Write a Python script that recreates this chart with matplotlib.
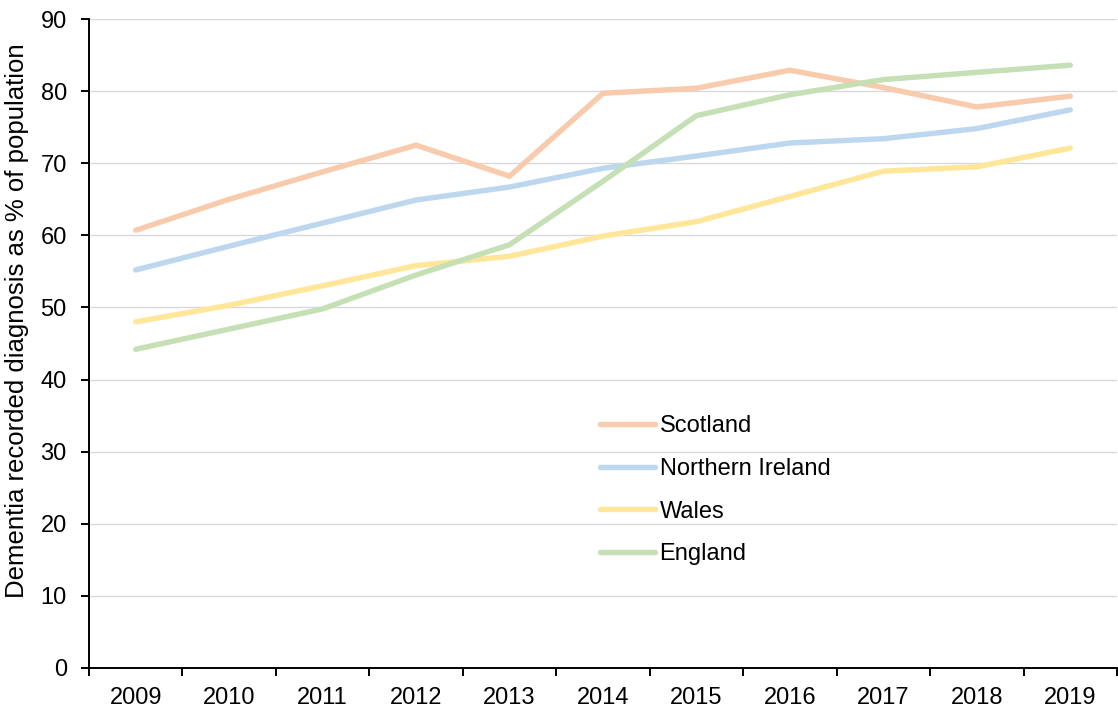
import numpy as np
import matplotlib
matplotlib.use("Agg")
import matplotlib.pyplot as plt
import matplotlib.ticker as ticker

plt.rcParams['font.family'] = ['Liberation Sans', 'DejaVu Sans']

# data (% of population with recorded diagnosis)
years = ["2009", "2010", "2011", "2012", "2013", "2014", "2015", "2016", "2017", "2018", "2019"]
scotland = [60.7, 65.0, 68.8, 72.5, 68.2, 79.7, 80.4, 82.9, 80.5, 77.8, 79.3]
northern_ireland = [55.2, 58.5, 61.7, 64.9, 66.7, 69.3, 71.0, 72.8, 73.4, 74.8, 77.4]
wales = [48.0, 50.3, 53.0, 55.8, 57.1, 59.9, 61.9, 65.4, 68.9, 69.5, 72.1]
england = [44.2, 47.0, 49.8, 54.5, 58.7, 67.5, 76.6, 79.5, 81.6, 82.6, 83.6]

series = [
    ("Scotland", scotland, "#F8CBAD"),
    ("Northern Ireland", northern_ireland, "#BDD7EE"),
    ("Wales", wales, "#FFE699"),
    ("England", england, "#C5E0B4"),
]

fig = plt.figure(figsize=(11.18, 7.11), dpi=100)
ax = fig.add_axes([89 / 1118, 43 / 711, 1028 / 1118, 649 / 711])

x = np.arange(len(years))
for name, vals, color in series:
    ax.plot(x, vals, color=color, linewidth=3.9, solid_capstyle="round",
            solid_joinstyle="miter", label=name, zorder=3)

# axes limits and ticks (Excel style: ticks between categories)
ax.set_xlim(-0.5, len(years) - 0.5)
ax.set_ylim(0, 90)
ax.xaxis.set_major_locator(ticker.FixedLocator(np.arange(-0.5, len(years), 1.0)))
ax.xaxis.set_major_formatter(ticker.NullFormatter())
ax.xaxis.set_minor_locator(ticker.FixedLocator(x))
ax.xaxis.set_minor_formatter(ticker.FixedFormatter(years))
ax.tick_params(axis="x", which="major", direction="out", length=6, width=1.4, color="black")
ax.tick_params(axis="x", which="minor", length=0, pad=14, labelsize=17)
ax.yaxis.set_major_locator(ticker.MultipleLocator(10))
ax.tick_params(axis="y", direction="out", length=6, width=1.4, labelsize=17, pad=10)

ax.grid(axis="y", color="#D9D9D9", linewidth=1.0, zorder=0)
ax.set_axisbelow(True)

for side in ["top", "right"]:
    ax.spines[side].set_visible(False)
for side in ["left", "bottom"]:
    ax.spines[side].set_linewidth(1.4)
    ax.spines[side].set_color("black")

ax.set_ylabel("Dementia recorded diagnosis as % of population", fontsize=18.5)
ax.yaxis.set_label_coords(-0.058, 0.535)

leg = ax.legend(loc="upper left", bbox_to_anchor=(600 / 1118, (711 - 415) / 711),
                bbox_transform=fig.transFigure, frameon=False, fontsize=17,
                handlelength=2.35, handletextpad=0.17, labelspacing=0.88,
                borderaxespad=0, borderpad=0)

fig.savefig("out.png", dpi=100)
